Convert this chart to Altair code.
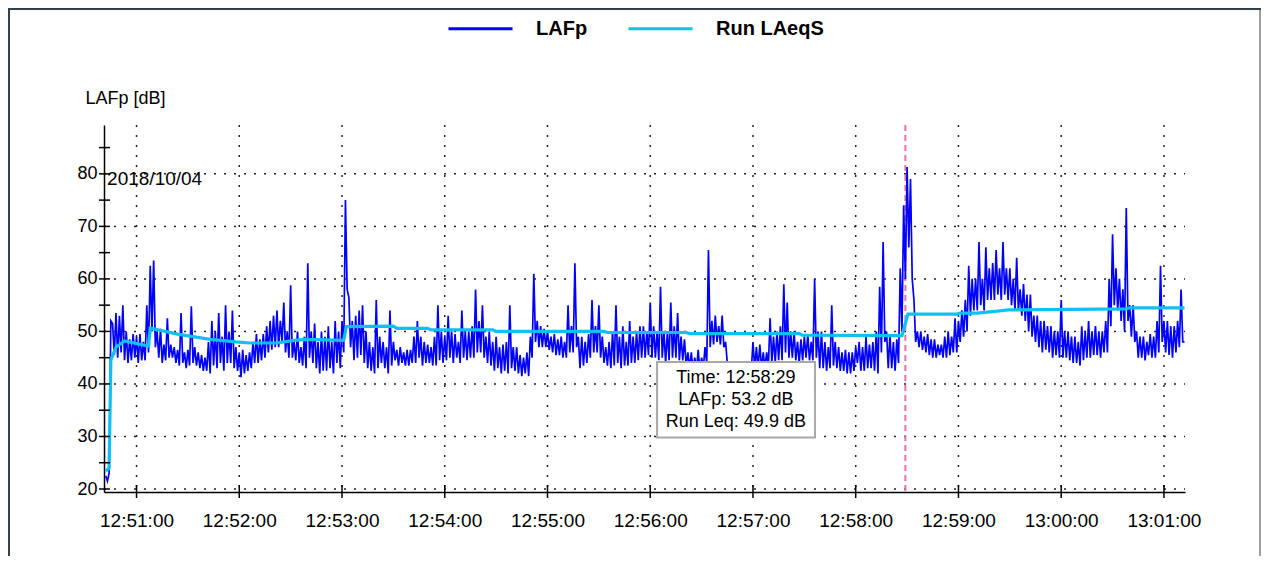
import altair as alt
import pandas as pd

# ---------------- values ----------------
# LAFp [dB], one sample per second (the high / low of each 2-s stretch),
# one list per minute of the record
lafp_1250 = [22.5, 21.5, 23.0, 52.0, 51.5, 45.5, 53.5, 45.0, 53.0, 46.0,
             55.0, 44.5, 50.0, 44.0, 48.5, 44.5, 49.5, 45.0]  # 12:50:42 .. 12:50:59
lafp_1251 = [49.0, 44.0, 49.5, 44.5, 48.0, 44.5, 55.0, 46.0, 62.5, 50.0, 63.5, 47.0, 50.0, 45.0, 50.5, 44.0, 47.5, 44.5, 52.5, 45.0,
             47.5, 45.0, 47.0, 44.0, 46.5, 43.5, 53.5, 44.0, 46.0, 43.0, 46.5, 43.5, 54.8, 44.0, 47.0, 43.5, 46.0, 43.0, 45.5, 42.5,
             45.0, 42.5, 48.0, 42.0, 52.0, 43.5, 50.0, 43.0, 53.5, 44.0, 49.0, 42.5, 55.0, 44.0, 50.0, 44.0, 54.0, 43.0, 47.0, 42.5]
lafp_1252 = [46.0, 41.3, 46.5, 42.0, 45.5, 42.5, 46.0, 43.0, 48.0, 44.0, 49.5, 44.0, 48.5, 44.5, 49.5, 45.0, 51.0, 46.0, 52.0, 46.5,
             53.0, 47.0, 54.0, 47.0, 52.0, 48.0, 55.5, 46.0, 50.0, 45.0, 58.8, 45.0, 48.0, 44.5, 50.0, 44.0, 47.0, 43.5, 49.0, 43.0,
             63.0, 45.0, 50.0, 44.0, 51.5, 43.0, 48.0, 42.0, 50.0, 42.5, 49.0, 42.5, 51.0, 43.0, 48.0, 42.0, 52.0, 44.0, 50.0, 43.0]
lafp_1253 = [52.0, 46.0, 75.0, 58.0, 56.5, 47.0, 52.0, 44.5, 53.0, 45.0, 54.0, 45.5, 55.0, 44.0, 50.0, 43.0, 48.0, 42.5, 47.0, 42.0,
             56.0, 43.0, 49.0, 44.0, 48.0, 43.0, 47.0, 42.0, 54.0, 43.5, 48.0, 44.5, 46.5, 43.5, 47.0, 44.0, 46.0, 43.5, 46.5, 43.5,
             46.5, 44.0, 49.0, 44.0, 52.0, 45.0, 49.0, 43.5, 48.0, 44.0, 47.5, 44.0, 47.0, 43.5, 49.0, 43.5, 55.0, 44.5, 50.0, 44.0]
lafp_1254 = [49.0, 44.5, 53.0, 45.0, 50.0, 44.0, 49.5, 45.0, 48.0, 44.0, 54.0, 45.0, 50.0, 44.5, 50.0, 45.0, 51.0, 45.0, 58.0, 46.0,
             52.0, 46.0, 55.0, 45.0, 49.0, 44.0, 50.0, 43.5, 48.0, 42.5, 49.0, 43.0, 47.0, 42.0, 47.5, 42.5, 48.0, 42.0, 55.0, 43.0,
             47.0, 42.5, 47.0, 42.0, 45.5, 41.5, 45.0, 42.0, 46.0, 41.5, 49.0, 45.0, 61.0, 48.0, 52.0, 47.0, 51.0, 47.0, 50.5, 47.0]
lafp_1255 = [50.0, 46.5, 49.0, 46.0, 49.5, 45.5, 48.5, 45.5, 49.0, 45.0, 48.0, 45.0, 55.0, 46.0, 51.0, 46.0, 63.0, 47.0, 49.0, 43.0,
             49.0, 43.5, 48.0, 44.0, 49.5, 45.0, 56.0, 46.0, 51.0, 46.0, 55.0, 45.0, 49.0, 44.0, 47.0, 43.5, 48.0, 43.0, 50.0, 43.5,
             55.0, 44.0, 49.0, 43.0, 51.0, 43.5, 48.0, 43.5, 52.0, 44.0, 49.0, 44.0, 50.0, 44.5, 51.0, 45.0, 51.0, 45.0, 50.0, 45.5]
lafp_1256 = [55.5, 45.0, 51.0, 45.0, 50.0, 44.5, 58.5, 45.0, 50.0, 44.0, 50.0, 44.5, 55.5, 45.0, 51.0, 45.0, 53.5, 44.5, 49.0, 44.5,
             48.5, 43.5, 46.0, 43.0, 46.0, 42.5, 45.0, 42.5, 46.5, 42.5, 45.0, 43.0, 47.0, 44.0, 65.5, 47.0, 52.0, 47.5, 53.0, 48.0,
             51.0, 47.5, 53.0, 47.0, 48.0, 44.0, 43.5, 41.5, 43.0, 42.0, 43.5, 42.0, 43.8, 42.0, 43.5, 42.0, 43.5, 42.5, 43.8, 42.5]
lafp_1257 = [48.0, 43.0, 47.0, 43.0, 47.5, 43.0, 46.0, 43.0, 46.0, 43.5, 52.5, 44.0, 49.0, 44.0, 50.0, 44.5, 51.0, 44.5, 59.0, 46.0,
             55.5, 45.0, 50.0, 45.0, 50.0, 44.5, 48.0, 44.0, 48.5, 44.5, 49.0, 45.0, 49.5, 44.5, 48.0, 44.5, 60.0, 45.0, 50.0, 43.0,
             50.0, 43.0, 48.0, 42.5, 47.0, 43.0, 55.0, 43.5, 48.0, 43.0, 47.0, 42.5, 46.0, 42.5, 46.5, 42.0, 46.0, 42.0, 46.0, 42.5]
lafp_1258 = [47.0, 44.0, 48.0, 42.5, 47.0, 42.5, 49.0, 43.0, 47.5, 43.0, 48.0, 42.5, 50.0, 42.0, 58.5, 46.0, 67.0, 48.0, 50.0, 43.0,
             49.5, 43.0, 48.0, 42.5, 48.5, 44.0, 62.0, 50.0, 74.0, 60.0, 81.3, 66.0, 79.0, 60.0, 56.0, 48.0, 50.0, 47.0, 50.0, 46.5,
             49.0, 46.0, 49.5, 45.5, 48.5, 45.0, 48.5, 45.0, 47.5, 45.5, 47.5, 45.0, 49.0, 45.0, 50.0, 45.5, 49.0, 46.0, 52.5, 46.0]
lafp_1259 = [52.0, 48.0, 54.0, 49.0, 56.0, 50.0, 62.5, 53.0, 60.0, 54.0, 60.0, 54.0, 67.0, 55.0, 60.0, 54.0, 66.0, 56.0, 62.0, 56.0,
             63.0, 56.0, 65.5, 57.0, 62.0, 56.0, 67.0, 57.0, 62.0, 56.0, 62.0, 55.0, 60.0, 54.0, 64.0, 54.0, 58.0, 53.0, 59.0, 52.0,
             57.0, 50.0, 57.0, 49.0, 53.0, 48.0, 53.0, 47.0, 52.0, 46.0, 52.0, 46.5, 51.0, 46.0, 51.0, 45.0, 50.0, 45.5, 50.0, 45.0]
lafp_1300 = [56.0, 45.0, 50.0, 45.0, 50.0, 44.5, 49.0, 44.0, 49.0, 44.0, 48.0, 43.5, 51.0, 44.5, 50.0, 45.0, 52.0, 45.0, 50.0, 45.5,
             51.0, 45.5, 50.0, 45.0, 50.0, 46.0, 52.0, 46.0, 60.0, 51.0, 68.5, 55.0, 62.0, 54.0, 60.0, 52.0, 58.0, 50.0, 73.5, 52.0,
             55.0, 49.0, 55.0, 48.0, 50.0, 45.0, 49.0, 45.0, 49.0, 44.5, 48.0, 45.5, 49.5, 45.0, 49.0, 45.0, 52.0, 46.0, 62.5, 48.0]
lafp_1301 = [52.0, 46.0, 52.0, 45.5, 51.0, 45.0, 51.0, 46.0, 52.0, 47.0, 58.0, 48.0, 48.0]  # 13:01:00 .. 13:01:12
lafp_first_second = 42   # seconds after 12:50:00 of the first sample
lafp_step = 1            # seconds between samples

# Running LAeq (S): breakpoints, seconds after 12:50:00 and level [dB]
leq_sec = [42, 44, 45, 48, 53, 67, 68, 84, 103, 118,
           126, 142, 152, 159, 181, 182.5, 210, 212, 230, 232,
           268, 270, 333, 335, 381, 383, 447, 449, 507, 510.5,
           539, 541, 551, 561, 569, 638, 640, 672]
leq_db = [23.4, 24.0, 44.6, 47.0, 48.2, 47.2, 50.6, 49.5, 48.5, 48.0,
          47.8, 47.8, 48.3, 48.5, 48.3, 50.9, 51.0, 50.6, 50.6, 50.3,
          50.3, 50.0, 50.0, 49.8, 49.8, 49.6, 49.6, 49.3, 49.2, 53.3,
          53.3, 53.5, 53.5, 53.8, 54.1, 54.3, 54.5, 54.5]

series_names = ["LAFp", "Run LAeqS"]
minute_ticks = ["12:51:00", "12:52:00", "12:53:00", "12:54:00", "12:55:00", "12:56:00",
                "12:57:00", "12:58:00", "12:59:00", "13:00:00", "13:01:00"]
y_labels = [20, 30, 40, 50, 60, 70, 80]
y_ticks = [20, 25, 30, 35, 40, 45, 50, 55, 60, 65, 70, 75, 80, 85]
record_date = "2018/10/04"
cursor_time = "12:58:29"
cursor_lafp = 53.2
cursor_leq = 49.9

# ---------------- helpers / tables ----------------
DAY = "2018-10-04"


def iso_from_sec(sec):
    total = 12 * 3600 + 50 * 60 + sec
    h = int(total // 3600)
    m = int((total % 3600) // 60)
    s = total - h * 3600 - m * 60
    return f"{DAY}T{h:02d}:{m:02d}:{s:06.3f}"


def iso_from_clock(clock):
    return f"{DAY}T{clock}"


lafp_all = (lafp_1250 + lafp_1251 + lafp_1252 + lafp_1253 + lafp_1254 + lafp_1255 +
            lafp_1256 + lafp_1257 + lafp_1258 + lafp_1259 + lafp_1300 + lafp_1301)
lafp_df = pd.DataFrame({
    "time": [iso_from_sec(lafp_first_second + lafp_step * i) for i in range(len(lafp_all))],
    "db": lafp_all,
    "series": series_names[0],
})
leq_df = pd.DataFrame({
    "time": [iso_from_sec(s) for s in leq_sec],
    "db": leq_db,
    "series": series_names[1],
})
minutes_df = pd.DataFrame({"time": [iso_from_clock(c) for c in minute_ticks]})
ygrid_df = pd.DataFrame({"db": y_labels})
ytick_df = pd.DataFrame({"db": y_ticks})
cursor_df = pd.DataFrame({"time": [iso_from_clock(cursor_time)]})

# annotation placement (in data space)
date_df = pd.DataFrame({"time": [iso_from_sec(42.8)], "db": [79.0], "text": [record_date]})
box_df = pd.DataFrame({"time": [iso_from_sec(364)], "time2": [iso_from_sec(456.2)],
                       "db": [29.8], "db2": [44.2]})
box_text_df = pd.DataFrame({
    "time": [iso_from_sec(410)] * 3,
    "db": [41.1, 36.95, 32.8],
    "text": [f"Time: {cursor_time}", f"LAFp: {cursor_lafp} dB", f"Run Leq: {cursor_leq} dB"],
})

# ---------------- chart ----------------
W, H = 1081, 367
FONT = "Liberation Sans"


def dt(h, m, s=0, ms=0):
    return alt.DateTime(year=2018, month=10, date=4, hours=h, minutes=m, seconds=s, milliseconds=ms)


x_scale = alt.Scale(domain=[dt(12, 50, 41), dt(13, 1, 12, 300)], nice=False)
y_scale = alt.Scale(domain=[19.43, 89.3], nice=False, zero=False)

x_axis = alt.Axis(values=[dt(int(c[:2]), int(c[3:5])) for c in minute_ticks],
                  format="%H:%M:%S", title=None, grid=False, ticks=False, tickSize=0,
                  labelPadding=19, labelFont=FONT, labelFontSize=19, labelColor="black",
                  labelFlush=False, domainColor="black", domainWidth=1.5)
y_axis = alt.Axis(values=y_labels, title="LAFp [dB]", titleAngle=0, titleX=-19, titleY=-27,
                  titleAlign="left", titleBaseline="middle", titleFont=FONT, titleFontSize=18,
                  titleFontWeight="normal", titleColor="black", grid=False, ticks=False,
                  tickSize=0, labelPadding=7, labelFont=FONT, labelFontSize=18,
                  labelColor="black", domainColor="black", domainWidth=1.5)

X = lambda f="time": alt.X(f"{f}:T", scale=x_scale, axis=x_axis)
Y = lambda f="db": alt.Y(f"{f}:Q", scale=y_scale, axis=y_axis)

color_scale = alt.Scale(domain=series_names, range=["#0000ff", "#10c0f2"])
legend = alt.Legend(orient="none", legendX=343, legendY=-130, direction="horizontal",
                    title=None, symbolType="stroke", symbolSize=4096, symbolStrokeWidth=3,
                    labelFont=FONT, labelFontSize=20, labelFontWeight="bold",
                    labelColor="black", labelOffset=22, columnPadding=34)

dot = dict(color="#222222", strokeWidth=1.5, strokeDash=[2, 8])

hgrid = alt.Chart(ygrid_df).mark_rule(**dot).encode(y=Y(), x=alt.value(0), x2=alt.value(W))
vgrid = alt.Chart(minutes_df).mark_rule(**dot).encode(x=X(), y=alt.value(0), y2=alt.value(H - 3))
cursor = alt.Chart(cursor_df).mark_rule(color="#f070a8", strokeWidth=2, strokeDash=[6, 4]).encode(
    x=X(), y=alt.value(0), y2=alt.value(H))

lafp_line = alt.Chart(lafp_df).mark_line(strokeWidth=1.7).encode(
    x=X(), y=Y(), color=alt.Color("series:N", scale=color_scale, legend=legend))
leq_line = alt.Chart(leq_df).mark_line(strokeWidth=3.2).encode(
    x=X(), y=Y(), color=alt.Color("series:N", scale=color_scale, legend=legend))

yticks = alt.Chart(ytick_df).mark_rule(color="black", strokeWidth=1.5).encode(
    y=Y(), x=alt.value(-5), x2=alt.value(6))
xticks = alt.Chart(minutes_df).mark_rule(color="black", strokeWidth=1.5).encode(
    x=X(), y=alt.value(H - 7), y2=alt.value(H + 6))

date_text = alt.Chart(date_df).mark_text(align="left", baseline="middle", font=FONT,
                                         fontSize=19, color="black").encode(
    x=X(), y=Y(), text="text:N")

box = alt.Chart(box_df).mark_rect(fill="white", stroke="#a8a8a8", strokeWidth=2).encode(
    x=X(), x2="time2:T", y=Y(), y2="db2:Q")
box_text = alt.Chart(box_text_df).mark_text(align="center", baseline="middle", font=FONT,
                                            fontSize=18, color="black").encode(
    x=X(), y=Y(), text="text:N")

frame_top = alt.Chart(ygrid_df).mark_rule(color="#33414f", strokeWidth=2).encode(
    x=alt.value(-96), x2=alt.value(W + 76), y=alt.value(-116))
frame_left = alt.Chart(ygrid_df).mark_rule(color="#33414f", strokeWidth=2).encode(
    x=alt.value(-95), y=alt.value(-117), y2=alt.value(H + 65))
frame_right = alt.Chart(ygrid_df).mark_rule(color="#a0a0a0", strokeWidth=2).encode(
    x=alt.value(W + 75), y=alt.value(-115), y2=alt.value(H + 65))

chart = alt.layer(
    hgrid, vgrid, cursor, lafp_line, leq_line, yticks, xticks, date_text, box, box_text,
    frame_top, frame_left, frame_right,
).properties(
    width=W, height=H,
    padding={"left": 96, "top": 117, "right": 76, "bottom": 64},
    autosize=alt.AutoSizeParams(type="none"),
    background="white",
).configure_view(stroke=None)

chart.save("out.html", embed_options={"renderer": "svg", "actions": False})
